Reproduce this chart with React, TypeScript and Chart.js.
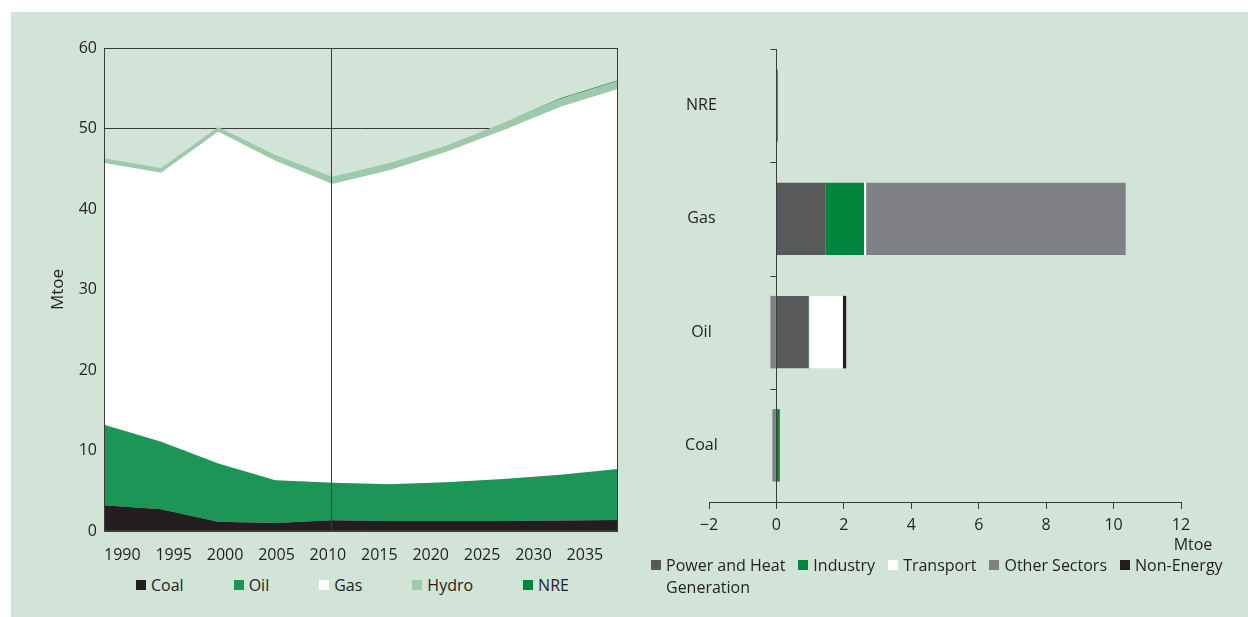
import React, { useEffect, useRef } from "react";
import { Chart, registerables } from "chart.js";

Chart.register(...registerables);

// ---------- Left chart data (Mtoe) ----------
const YEARS = [1990, 1995, 2000, 2005, 2010, 2015, 2020, 2025, 2030, 2035];
const YEAR_LABELS = ["1990", "1995", "2000", "2005", "2010", "2015", "2020", "2025", "2030", "2035"];
const COAL = [3.2, 2.7, 1.15, 1.0, 1.35, 1.25, 1.25, 1.25, 1.3, 1.37];
const OIL = [10.0, 8.4, 7.25, 5.3, 4.65, 4.55, 4.8, 5.2, 5.7, 6.33];
const GAS = [32.5, 33.4, 41.2, 39.7, 37.1, 39.0, 41.05, 43.35, 45.7, 47.2];
const HYDRO = [0.6, 0.6, 0.6, 0.7, 0.9, 0.9, 0.8, 0.9, 1.0, 1.0];
const NRE = [0, 0, 0, 0, 0, 0, 0, 0, 0.1, 0.1];
const DIVIDER_YEAR = 2010;
const LEFT_LEGEND = ["Coal", "Oil", "Gas", "Hydro", "NRE"];

// ---------- Right chart data (Mtoe) ----------
const FUELS = ["NRE", "Gas", "Oil", "Coal"];
const POWER = [0.04, 1.45, 0.95, 0];
const INDUSTRY = [0, 1.15, 0.02, 0.1];
const TRANSPORT = [0, 0.06, 1.0, 0];
const OTHER = [0, 7.7, -0.18, -0.12];
const NON_ENERGY = [0, 0, 0.1, 0];
const SECTORS = ["Power and Heat Generation", "Industry", "Transport", "Other Sectors", "Non-Energy"];

// ---------- Styles ----------
const PANEL = "#d2e4d7";
const TEXT = "#231f20";
const AXIS = "#3b3b3b";
const C_COAL = "#231f20";
const C_OIL = "#1c9557";
const C_GAS = "#ffffff";
const C_HYDRO = "#9ec9aa";
const C_NRE = "#00843d";
const LEFT_COLORS = [C_COAL, C_OIL, C_GAS, C_HYDRO, C_NRE];
const C_POWER = "#58595b";
const C_INDUSTRY = "#00873e";
const C_TRANSPORT = "#ffffff";
const C_OTHER = "#808184";
const C_NONENERGY = "#231f20";
const RIGHT_COLORS = [C_POWER, C_INDUSTRY, C_TRANSPORT, C_OTHER, C_NONENERGY];
const FONT = "'Open Sans', 'Noto Sans', sans-serif";
const FS = 16;

Chart.defaults.font.family = FONT;
Chart.defaults.font.size = FS;
Chart.defaults.color = TEXT;

function LeftChart() {
  const ref = useRef<HTMLCanvasElement>(null);
  useEffect(() => {
    const frame = {
      id: "frame",
      afterDatasetsDraw(chart: any) {
        const { ctx, chartArea: a, scales } = chart;
        ctx.save();
        ctx.strokeStyle = AXIS;
        ctx.lineWidth = 1;
        const l = Math.round(a.left) + 0.5;
        const r = Math.round(a.right) - 0.5;
        const t = Math.round(a.top) + 0.5;
        const b = Math.round(a.bottom) - 0.5;
        ctx.strokeRect(l, t, r - l, b - t);
        const x = Math.round(scales.x.getPixelForValue(DIVIDER_YEAR)) - 0.5;
        ctx.beginPath();
        ctx.moveTo(x, a.top);
        ctx.lineTo(x, a.bottom);
        ctx.stroke();
        ctx.restore();
      },
    };
    const series = [COAL, OIL, GAS, HYDRO, NRE];
    const datasets = series.map((vals, k) => ({
      label: LEFT_LEGEND[k],
      data: YEARS.map((yr, i) => ({ x: yr, y: vals[i] })),
      backgroundColor: LEFT_COLORS[k],
      borderColor: LEFT_COLORS[k],
      borderWidth: 0,
      pointRadius: 0,
      tension: 0,
      fill: k === 0 ? "origin" : "-1",
    }));
    const chart = new Chart(ref.current as HTMLCanvasElement, {
      type: "line",
      data: { datasets },
      options: {
        animation: false,
        responsive: false,
        layout: { padding: { left: 0, right: 22, top: 36, bottom: 0 } },
        plugins: { legend: { display: false }, tooltip: { enabled: false } },
        scales: {
          x: {
            type: "linear",
            min: YEARS[0],
            max: YEARS[YEARS.length - 1],
            grid: { display: false },
            border: { display: false },
            afterBuildTicks: (s: any) => {
              const span = YEARS[YEARS.length - 1] - YEARS[0];
              s.ticks = YEAR_LABELS.map((_, i) => ({ value: YEARS[0] + (i * span) / YEAR_LABELS.length }));
            },
            afterFit: (s: any) => {
              s.height = 41;
            },
            ticks: {
              align: "start",
              autoSkip: false,
              maxRotation: 0,
              padding: 7,
              color: TEXT,
              font: { size: FS },
              callback: (_v: any, i: number) => YEAR_LABELS[i],
            },
          },
          y: {
            stacked: true,
            min: 0,
            max: 60,
            afterFit: (s: any) => {
              s.width = 84;
            },
            ticks: { stepSize: 10, padding: 7, color: TEXT, font: { size: FS } },
            grid: { color: AXIS, drawTicks: false, lineWidth: 1 },
            border: { color: AXIS },
            title: { display: true, text: "Mtoe", color: TEXT, font: { size: FS + 1 }, padding: { top: 28, bottom: 0 } },
          },
        },
      } as any,
      plugins: [frame],
    });
    return () => chart.destroy();
  }, []);
  return (
    <canvas
      ref={ref}
      width={620}
      height={560}
      style={{ position: "absolute", left: 20, top: 12, width: 620, height: 560 }}
    />
  );
}

function RightChart() {
  const ref = useRef<HTMLCanvasElement>(null);
  useEffect(() => {
    const axisPlugin = {
      id: "catAxis",
      beforeDatasetsDraw(chart: any) {
        const { ctx, chartArea: a, scales } = chart;
        const xs = scales.x;
        const ys = scales.y;
        const x0 = Math.round(xs.getPixelForValue(0)) + 0.5;
        ctx.save();
        ctx.strokeStyle = AXIS;
        ctx.lineWidth = 1;
        ctx.beginPath();
        ctx.moveTo(x0, a.top);
        ctx.lineTo(x0, a.bottom);
        FUELS.forEach((_, i) => {
          const yy = Math.round(ys.getPixelForValue(i - 0.5)) + 0.5;
          ctx.moveTo(x0 - 6, yy);
          ctx.lineTo(x0, yy);
        });
        ctx.stroke();
        ctx.restore();
      },
      afterDraw(chart: any) {
        const { ctx, chartArea: a, scales } = chart;
        const xs = scales.x;
        const ys = scales.y;
        const x0 = xs.getPixelForValue(0);
        ctx.save();
        ctx.fillStyle = TEXT;
        ctx.font = `${FS}px ${FONT}`;
        ctx.textAlign = "center";
        ctx.textBaseline = "middle";
        FUELS.forEach((f, i) => ctx.fillText(f, x0 - 75, ys.getPixelForValue(i)));
        ctx.fillText("Mtoe", xs.getPixelForValue(xs.max) + 12, a.bottom + 43);
        ctx.restore();
      },
    };
    const series = [POWER, INDUSTRY, TRANSPORT, OTHER, NON_ENERGY];
    const datasets = series.map((vals, k) => ({
      label: SECTORS[k],
      data: vals,
      backgroundColor: RIGHT_COLORS[k],
      borderWidth: 0,
      categoryPercentage: 0.8,
      barPercentage: 0.8,
    }));
    const chart = new Chart(ref.current as HTMLCanvasElement, {
      type: "bar",
      data: { labels: FUELS, datasets },
      options: {
        indexAxis: "y",
        animation: false,
        responsive: false,
        layout: { padding: { left: 69, right: 67, top: 37, bottom: 18 } },
        plugins: { legend: { display: false }, tooltip: { enabled: false } },
        scales: {
          x: {
            stacked: true,
            min: -2,
            max: 12,
            ticks: {
              stepSize: 2,
              padding: 7,
              color: TEXT,
              font: { size: FS },
              callback: (v: any) => (v < 0 ? "\u2212" + Math.abs(v) : String(v)),
            },
            grid: { drawOnChartArea: false, tickLength: 7, color: AXIS },
            border: { color: AXIS },
            afterFit: (s: any) => {
              s.height = 40;
            },
          },
          y: { stacked: true, display: false },
        },
      } as any,
      plugins: [axisPlugin],
    });
    return () => chart.destroy();
  }, []);
  return (
    <canvas
      ref={ref}
      width={608}
      height={548}
      style={{ position: "absolute", left: 640, top: 12, width: 608, height: 548 }}
    />
  );
}

function Swatch({ color }: { color: string }) {
  return <span style={{ display: "inline-block", width: 10, height: 10, background: color, marginTop: 6, flex: "0 0 auto" }} />;
}

export default function App() {
  const textStyle: React.CSSProperties = { fontFamily: FONT, fontSize: FS, color: TEXT, lineHeight: "22px" };
  return (
    <div style={{ position: "fixed", left: 0, top: 0, width: 1248, height: 617, background: "#ffffff", overflow: "hidden" }}>
      <div style={{ position: "absolute", left: 11, top: 12, right: 0, bottom: 0, background: PANEL }} />
      <LeftChart />
      <RightChart />
      <div style={{ position: "absolute", left: 136, top: 574, display: "flex", gap: 50, ...textStyle }}>
        {LEFT_LEGEND.map((name, i) => (
          <div key={name} style={{ display: "flex", alignItems: "flex-start", gap: 5 }}>
            <Swatch color={LEFT_COLORS[i]} />
            <span>{name}</span>
          </div>
        ))}
      </div>
      <div style={{ position: "absolute", left: 651, top: 554, display: "flex", gap: 13, ...textStyle }}>
        {SECTORS.map((name, i) => (
          <div key={name} style={{ display: "flex", alignItems: "flex-start", gap: 5 }}>
            <Swatch color={RIGHT_COLORS[i]} />
            {i === 0 ? (
              <span>
                Power and Heat
                <br />
                Generation
              </span>
            ) : (
              <span>{name}</span>
            )}
          </div>
        ))}
      </div>
    </div>
  );
}
